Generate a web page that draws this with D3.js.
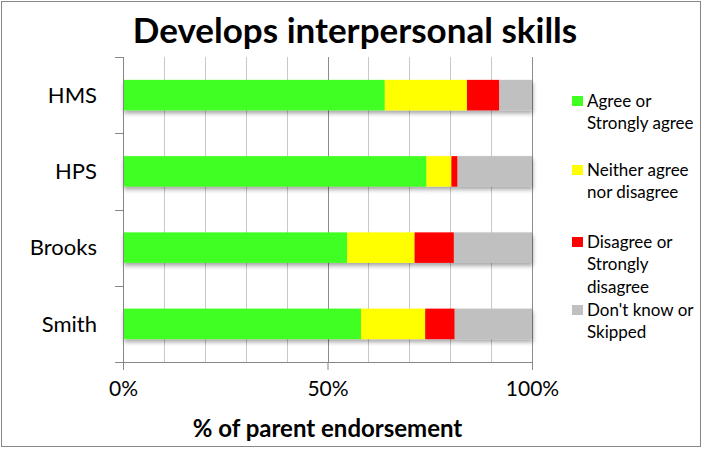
<!DOCTYPE html>
<html>
<head>
<meta charset="utf-8">
<script src="https://cdn.jsdelivr.net/npm/d3@7"></script>
<style>
  body { margin: 0; background: #fff; }
  text { font-family: Lato, "Open Sans", sans-serif; fill: #000; }
</style>
</head>
<body>
<div id="chart"></div>
<script>
// chart data
var schools = ["HMS", "HPS", "Brooks", "Smith"];
var seriesNames = ["Agree or Strongly agree", "Neither agree nor disagree", "Disagree or Strongly disagree", "Don't know or Skipped"];
var agree = [64.0, 74.2, 54.8, 58.2];
var neither = [20.1, 6.1, 16.5, 15.7];
var disagree = [7.9, 1.5, 9.6, 7.2];
var dontKnow = [8.0, 18.2, 19.1, 18.9];
var tickValues = [0, 50, 100];

var colors = ["#41ff21", "#ffff00", "#ff0000", "#c0c0c0"];
var legendLines = [["Agree or", "Strongly agree"], ["Neither agree", "nor disagree"], ["Disagree or", "Strongly", "disagree"], ["Don't know or", "Skipped"]];

var svgWidth = 702;
var svgHeight = 449;
var margin = { top: 57, left: 123, right: 170, bottom: 87 };
var width = svgWidth - margin.left - margin.right;
var height = svgHeight - margin.top - margin.bottom;

var svg = d3.select("#chart")
  .append("svg")
  .attr("width", svgWidth)
  .attr("height", svgHeight);

// drop shadow for bars
var filter = svg.append("defs").append("filter")
  .attr("id", "shadow")
  .attr("x", "-5%").attr("y", "-20%")
  .attr("width", "110%").attr("height", "160%");
filter.append("feDropShadow")
  .attr("dx", 1).attr("dy", 3)
  .attr("stdDeviation", 2)
  .attr("flood-color", "#000")
  .attr("flood-opacity", 0.35);

// outer border
svg.append("rect")
  .attr("x", 1.5).attr("y", 1.5)
  .attr("width", svgWidth - 3).attr("height", 445)
  .attr("fill", "none")
  .attr("stroke", "#868686");

svg.append("text")
  .attr("x", 355)
  .attr("y", 43)
  .attr("text-anchor", "middle")
  .attr("font-weight", "bold")
  .attr("font-size", "35px")
  .text("Develops interpersonal skills");

var chartGroup = svg.append("g")
  .attr("transform", `translate(${margin.left}, ${margin.top})`);

var xScale = d3.scaleLinear().domain([0, 100]).range([0, width]);
var yScale = d3.scaleBand().domain(schools).range([0, height]).paddingInner(0.6).paddingOuter(0.3);
var yBand = d3.scaleBand().domain(schools).range([0, height]);

// minor gridlines
chartGroup.append("g")
  .selectAll("line")
  .data(d3.range(10, 100, 10).filter(d => d !== 50))
  .enter()
  .append("line")
  .attr("x1", d => Math.round(xScale(d)) + 0.5)
  .attr("x2", d => Math.round(xScale(d)) + 0.5)
  .attr("y1", 0)
  .attr("y2", height)
  .attr("stroke", "#c8c8c8");

// major gridlines
chartGroup.append("g")
  .selectAll("line")
  .data([50, 100])
  .enter()
  .append("line")
  .attr("x1", d => Math.round(xScale(d)) + 0.5)
  .attr("x2", d => Math.round(xScale(d)) + 0.5)
  .attr("y1", 0)
  .attr("y2", height)
  .attr("stroke", "#8c8c8c");

// stacked bars
var table = schools.map((s, i) => ({ school: s, a: agree[i], b: neither[i], c: disagree[i], d: dontKnow[i] }));
var stacked = d3.stack().keys(["a", "b", "c", "d"])(table);

var barsGroup = chartGroup.append("g").attr("filter", "url(#shadow)");
barsGroup.selectAll("g")
  .data(stacked)
  .enter()
  .append("g")
  .attr("fill", (d, i) => colors[i])
  .selectAll("rect")
  .data(d => d)
  .enter()
  .append("rect")
  .attr("x", d => xScale(d[0]))
  .attr("width", d => xScale(d[1]) - xScale(d[0]))
  .attr("y", d => yScale(d.data.school))
  .attr("height", yScale.bandwidth());

// bottom axis
var bottomAxis = d3.axisBottom(xScale)
  .tickValues(tickValues)
  .tickSize(8)
  .tickFormat(d => d + "%");
var xAxis = chartGroup.append("g")
  .attr("transform", `translate(0, ${height})`)
  .call(bottomAxis);
xAxis.select(".domain").attr("d", `M-8,0.5H${width}`);
xAxis.selectAll("line").attr("stroke", "#868686");
xAxis.selectAll(".domain").attr("stroke", "#868686");
xAxis.selectAll("text")
  .attr("font-size", "21px")
  .attr("font-family", "Lato, sans-serif")
  .attr("dy", "1.1em");

// left axis
var leftAxis = chartGroup.append("g");
leftAxis.append("line")
  .attr("x1", 0.5).attr("x2", 0.5)
  .attr("y1", 0).attr("y2", height + 8)
  .attr("stroke", "#868686");
leftAxis.selectAll(".tick")
  .data(schools)
  .enter()
  .append("line")
  .attr("x1", -8).attr("x2", 0)
  .attr("y1", d => Math.round(yBand(d)) + 0.5)
  .attr("y2", d => Math.round(yBand(d)) + 0.5)
  .attr("stroke", "#868686");
leftAxis.selectAll("text")
  .data(schools)
  .enter()
  .append("text")
  .attr("x", -26)
  .attr("y", d => yBand(d) + yBand.bandwidth() / 2)
  .attr("dy", "0.35em")
  .attr("text-anchor", "end")
  .attr("font-size", "22px")
  .text(d => d);

// x axis title
svg.append("text")
  .attr("x", margin.left + width / 2)
  .attr("y", 437)
  .attr("text-anchor", "middle")
  .attr("font-weight", "bold")
  .attr("font-size", "24px")
  .text("% of parent endorsement");

// legend
var legendTop = [101, 170, 242, 310];
var legend = svg.append("g");
seriesNames.forEach(function (name, i) {
  var g = legend.append("g").attr("transform", `translate(572, ${legendTop[i]})`);
  g.append("rect")
    .attr("x", 0).attr("y", -5)
    .attr("width", 11).attr("height", 10)
    .attr("fill", colors[i]);
  legendLines[i].forEach(function (line, j) {
    g.append("text")
      .attr("x", 15)
      .attr("y", j * 22.5)
      .attr("dy", "0.35em")
      .attr("font-size", "17px")
      .text(line);
  });
});
</script>
</body>
</html>
